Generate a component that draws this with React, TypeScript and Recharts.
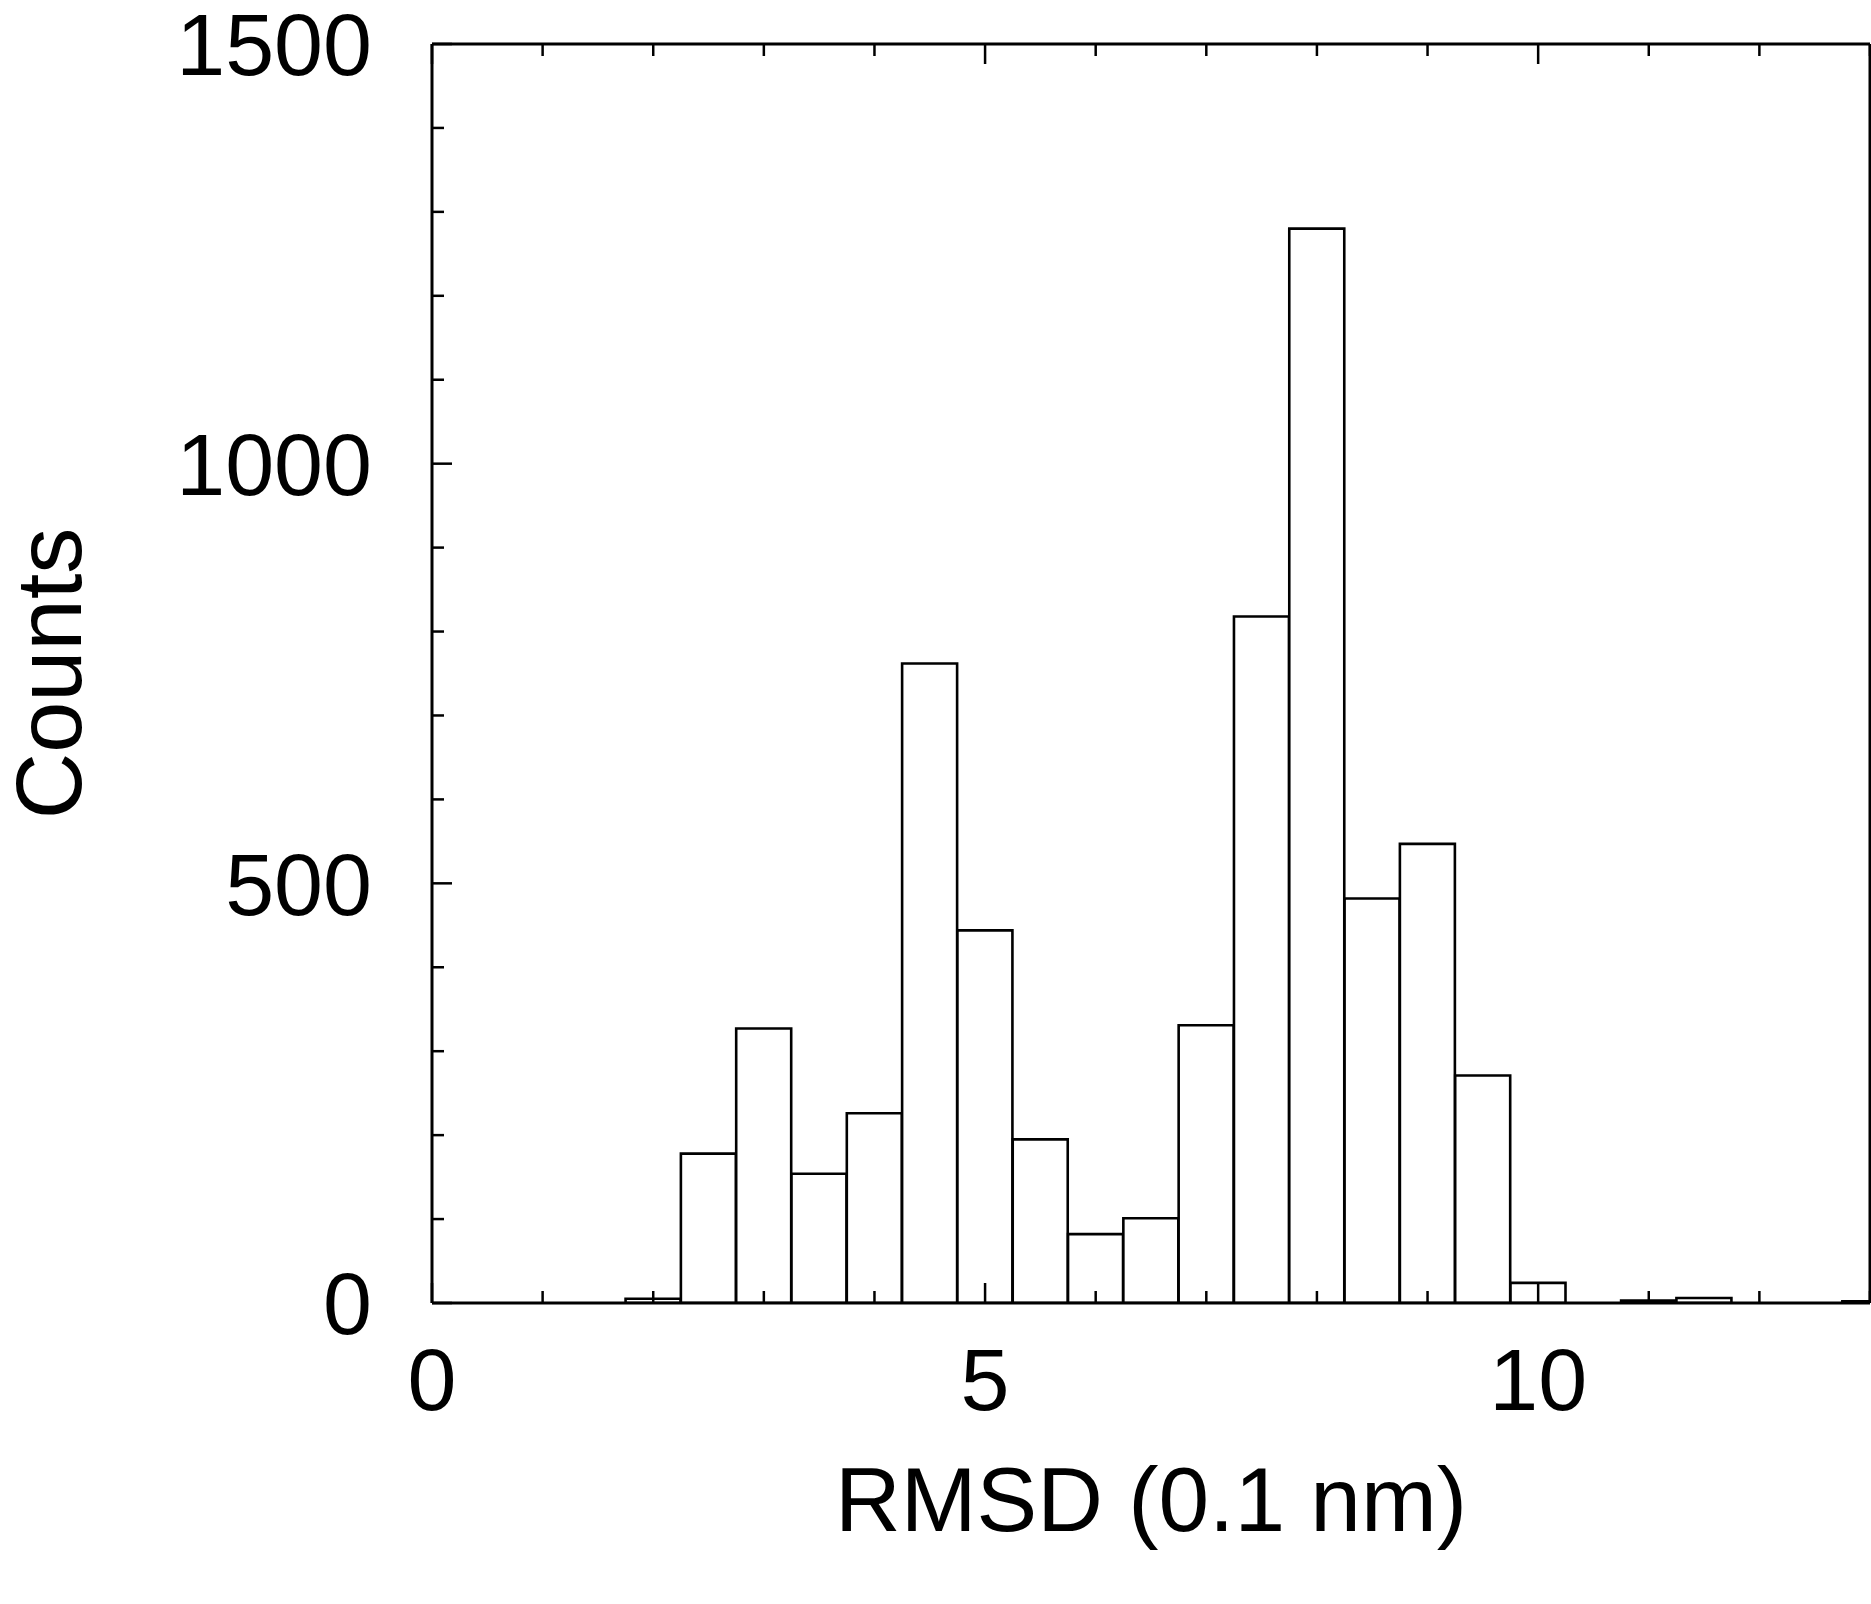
import { BarChart, Bar, XAxis, YAxis, Label } from 'recharts';

// histogram bins (0.5 wide), centre value and count
const binCenters = [2.0, 2.5, 3.0, 3.5, 4.0, 4.5, 5.0, 5.5, 6.0, 6.5, 7.0, 7.5, 8.0, 8.5, 9.0, 9.5, 10.0, 10.5, 11.0, 11.5, 12.0, 12.5, 13.0];
const counts = [5, 178, 327, 154, 226, 762, 444, 195, 82, 101, 331, 818, 1280, 482, 547, 271, 24, 0, 3, 6, 0, 0, 2];

const xTicks = [0, 1, 2, 3, 4, 5, 6, 7, 8, 9, 10, 11, 12, 13];
const xLabelled = [0, 5, 10];
const yTicks = [0, 100, 200, 300, 400, 500, 600, 700, 800, 900, 1000, 1100, 1200, 1300, 1400, 1500];
const yLabelled = [0, 500, 1000, 1500];

const xTitle = 'RMSD (0.1 nm)';
const yTitle = 'Counts';

const data = binCenters.map((x, i) => ({ x, count: counts[i] }));

const W = 1871;
const H = 1604;
const PLOT_LEFT = 432;
const PLOT_TOP = 44;
const PLOT_BOTTOM_SPACE = 301;
const X_MAX = 13;

const FONT = '"Liberation Sans", Arial, Helvetica, sans-serif';
const INK = '#000';

function BottomTick({ x, y, payload }: any) {
  const major = xLabelled.includes(payload.value);
  return (
    <g>
      <line x1={x} y1={y} x2={x} y2={y - (major ? 20 : 12)} stroke={INK} strokeWidth={2.5} />
      {major && (
        <text x={x} y={y + 45} dy="0.71em" textAnchor="middle" fontSize={88} fontFamily={FONT} fill={INK}>
          {payload.value}
        </text>
      )}
    </g>
  );
}

function TopTick({ x, y, payload }: any) {
  const major = xLabelled.includes(payload.value);
  return <line x1={x} y1={y} x2={x} y2={y + (major ? 20 : 12)} stroke={INK} strokeWidth={2.5} />;
}

function LeftTick({ x, y, payload }: any) {
  const major = yLabelled.includes(payload.value);
  return (
    <g>
      <line x1={x} y1={y} x2={x + (major ? 20 : 12)} y2={y} stroke={INK} strokeWidth={2.5} />
      {major && (
        <text x={x - 60} y={y} dy="0.355em" textAnchor="end" fontSize={88} fontFamily={FONT} fill={INK}>
          {payload.value}
        </text>
      )}
    </g>
  );
}

function RightTick({ x, y, payload }: any) {
  const major = yLabelled.includes(payload.value);
  return <line x1={x} y1={y} x2={x - (major ? 20 : 12)} y2={y} stroke={INK} strokeWidth={2.5} />;
}

function XTitle({ viewBox }: any) {
  return (
    <text x={viewBox.x + viewBox.width / 2} y={viewBox.y + 228} textAnchor="middle" fontSize={91} fontFamily={FONT} fill={INK}>
      {xTitle}
    </text>
  );
}

function YTitle({ viewBox }: any) {
  const bx = viewBox.x + 81;
  const cy = viewBox.y + viewBox.height / 2;
  return (
    <text x={bx} y={cy} transform={`rotate(-90 ${bx} ${cy})`} textAnchor="middle" fontSize={92} fontFamily={FONT} fill={INK}>
      {yTitle}
    </text>
  );
}

export default function App() {
  return (
    <div style={{ position: 'absolute', left: 0, top: 0, background: '#fff' }}>
      <BarChart
        width={W}
        height={H}
        data={data}
        margin={{ top: PLOT_TOP - 1, right: 0, bottom: 0, left: 0 }}
        barCategoryGap={0}
        barGap={0}
      >
        <XAxis
          dataKey="x"
          type="number"
          domain={[0, X_MAX]}
          ticks={xTicks}
          interval={0}
          allowDataOverflow
          height={PLOT_BOTTOM_SPACE}
          tickSize={0}
          tickMargin={0}
          tick={<BottomTick />}
          axisLine={{ stroke: INK, strokeWidth: 3 }}
        >
          <Label content={<XTitle />} />
        </XAxis>
        <XAxis
          xAxisId="top"
          dataKey="x"
          type="number"
          orientation="top"
          domain={[0, X_MAX]}
          ticks={xTicks}
          interval={0}
          allowDataOverflow
          height={1}
          tickSize={0}
          tickMargin={0}
          tick={<TopTick />}
          axisLine={{ stroke: INK, strokeWidth: 3 }}
        />
        <YAxis
          type="number"
          domain={[0, 1500]}
          ticks={yTicks}
          interval={0}
          allowDataOverflow
          width={PLOT_LEFT}
          tickSize={0}
          tickMargin={0}
          tick={<LeftTick />}
          axisLine={{ stroke: INK, strokeWidth: 3 }}
        >
          <Label content={<YTitle />} />
        </YAxis>
        <YAxis
          yAxisId="right"
          orientation="right"
          type="number"
          domain={[0, 1500]}
          ticks={yTicks}
          interval={0}
          width={1}
          tickSize={0}
          tickMargin={0}
          tick={<RightTick />}
          axisLine={{ stroke: INK, strokeWidth: 3 }}
        />
        <Bar
          dataKey="count"
          fill="#fff"
          stroke={INK}
          strokeWidth={2.6}
          isAnimationActive={false}
        />
      </BarChart>
    </div>
  );
}
